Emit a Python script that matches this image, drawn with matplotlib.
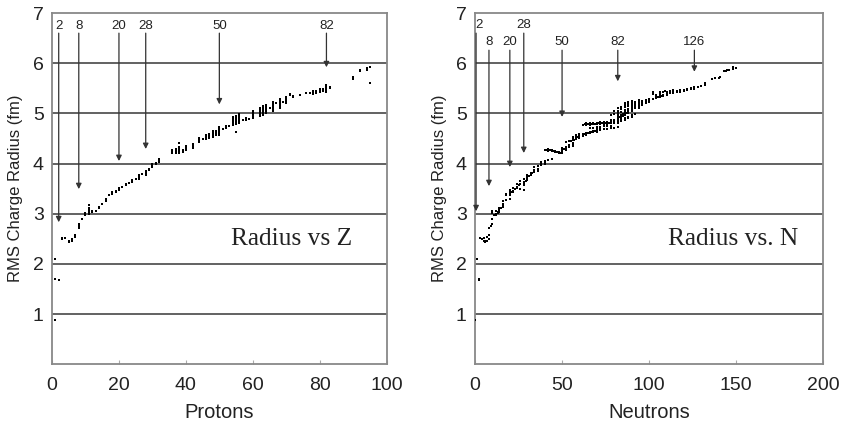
import matplotlib
matplotlib.use('Agg')
import matplotlib.pyplot as plt

# measured nuclei: proton number, neutron number, rms charge radius (fm)
# (one line per element, same layout in all three lists)
protons = [
    1, 1, 1,
    2,
    3, 3,
    4,
    5, 5,
    6, 6, 6,
    7, 7,
    8, 8, 8,
    9,
    10, 10, 10,
    11, 11, 11, 11, 11, 11,
    12, 12, 12,
    13,
    14, 14, 14,
    15,
    16, 16, 16,
    17, 17,
    18, 18, 18,
    19, 19, 19,
    20, 20, 20, 20, 20, 20,
    21,
    22, 22, 22, 22,
    23,
    24, 24, 24, 24,
    25,
    26, 26, 26, 26,
    27,
    28, 28, 28, 28, 28,
    29, 29,
    30, 30, 30, 30,
    31, 31,
    32, 32, 32, 32,
    36, 36, 36, 36, 36, 36,
    37, 37, 37, 37, 37, 37, 37,
    38, 38, 38, 38, 38, 38, 38, 38, 38, 38,
    39, 39,
    40, 40, 40, 40, 40,
    42, 42, 42, 42,
    44, 44, 44, 44, 44, 44, 44,
    45,
    46, 46, 46, 46, 46, 46,
    47, 47, 47, 47, 47,
    48, 48, 48, 48, 48, 48, 48, 48, 48, 48,
    49, 49, 49, 49, 49, 49,
    50, 50, 50, 50, 50, 50, 50, 50, 50, 50, 50, 50, 50, 50, 50,
    51, 51,
    52, 52, 52, 52, 52, 52, 52,
    53,
    54, 54, 54, 54, 54, 54, 54, 54, 54, 54, 54, 54, 54, 54, 54,
    55, 55, 55, 55, 55, 55, 55, 55, 55, 55, 55, 55, 55, 55, 55, 55,
    56, 56, 56, 56, 56, 56, 56, 56, 56, 56, 56, 56, 56, 56, 56,
    57,
    58, 58, 58, 58,
    59,
    60, 60, 60, 60, 60, 60, 60,
    62, 62, 62, 62, 62, 62, 62, 62,
    63, 63, 63, 63, 63, 63, 63, 63, 63,
    64, 64, 64, 64, 64, 64, 64, 64,
    65,
    66, 66, 66, 66, 66, 66, 66, 66, 66, 66,
    67,
    68, 68, 68, 68, 68, 68, 68, 68, 68, 68, 68,
    69,
    70, 70, 70, 70, 70, 70, 70, 70, 70,
    71, 71,
    72, 72, 72, 72, 72,
    74, 74, 74,
    76, 76,
    77,
    78, 78, 78, 78, 78, 78, 78,
    79, 79, 79, 79, 79,
    80, 80, 80, 80, 80, 80, 80, 80, 80, 80,
    81, 81, 81, 81, 81, 81,
    82, 82, 82, 82, 82, 82, 82, 82, 82, 82,
    83, 83,
    90, 90, 90, 90,
    92, 92, 92,
    94, 94, 94, 94,
    95, 95,
]
neutrons = [
    0, 1, 2,
    2,
    3, 4,
    5,
    5, 6,
    6, 7, 8,
    7, 8,
    8, 9, 10,
    10,
    10, 11, 12,
    10, 12, 13, 14, 15, 16,
    12, 13, 14,
    14,
    14, 15, 16,
    16,
    16, 18, 20,
    18, 20,
    18, 20, 22,
    20, 21, 22,
    20, 22, 23, 24, 26, 28,
    24,
    24, 25, 26, 28,
    28,
    26, 28, 29, 30,
    30,
    28, 30, 31, 32,
    32,
    30, 32, 33, 34, 36,
    34, 36,
    34, 36, 38, 40,
    38, 40,
    38, 40, 42, 44,
    40, 42, 44, 46, 48, 50,
    41, 43, 45, 47, 48, 50, 52,
    42, 44, 46, 47, 48, 49, 50, 52, 54, 56,
    50, 52,
    50, 51, 52, 54, 56,
    50, 52, 54, 56,
    52, 54, 55, 56, 57, 58, 60,
    58,
    56, 58, 59, 60, 62, 64,
    56, 58, 60, 62, 64,
    56, 58, 60, 62, 63, 64, 65, 66, 68, 70,
    60, 62, 64, 66, 68, 70,
    58, 60, 62, 64, 66, 67, 68, 69, 70, 72, 74, 76, 78, 80, 82,
    70, 72,
    66, 68, 70, 72, 74, 76, 78,
    74,
    62, 64, 66, 68, 70, 72, 74, 76, 78, 80, 82, 84, 86, 88, 90,
    63, 65, 67, 69, 70, 71, 73, 75, 77, 78, 80, 82, 84, 86, 88, 90,
    64, 66, 68, 70, 72, 74, 76, 78, 80, 82, 84, 86, 88, 90, 92,
    82,
    78, 80, 82, 84,
    82,
    82, 83, 84, 85, 86, 88, 90,
    82, 84, 85, 86, 87, 88, 90, 92,
    78, 80, 82, 84, 86, 88, 90, 92, 94,
    82, 84, 86, 88, 90, 92, 94, 96,
    94,
    80, 82, 84, 86, 88, 90, 92, 94, 96, 98,
    98,
    82, 84, 86, 88, 90, 92, 94, 96, 98, 100, 102,
    100,
    86, 88, 90, 94, 98, 100, 102, 104, 106,
    104, 106,
    104, 105, 106, 107, 108,
    106, 108, 110,
    112, 114,
    114,
    102, 106, 110, 114, 116, 118, 120,
    106, 110, 114, 118, 120,
    102, 106, 110, 114, 116, 118, 120, 122, 124, 126,
    109, 114, 118, 122, 124, 126,
    108, 112, 116, 120, 122, 124, 126, 128, 130, 132,
    124, 126,
    136, 138, 140, 141,
    143, 144, 146,
    145, 146, 148, 150,
    148, 132,
]
radius = [
    0.88, 2.10, 1.70,
    1.68,
    2.52, 2.50,
    2.51,
    2.45, 2.44,
    2.46, 2.45, 2.50,
    2.54, 2.57,
    2.72, 2.75, 2.79,
    2.89,
    3.01, 2.98, 2.97,
    3.05, 3.00, 3.02, 3.08, 3.12, 3.17,
    3.06, 3.03, 3.04,
    3.06,
    3.12, 3.12, 3.13,
    3.19,
    3.25, 3.28, 3.30,
    3.37, 3.38,
    3.39, 3.40, 3.43,
    3.44, 3.44, 3.45,
    3.48, 3.51, 3.49, 3.52, 3.50, 3.48,
    3.54,
    3.59, 3.58, 3.59, 3.57,
    3.61,
    3.66, 3.64, 3.65, 3.68,
    3.70,
    3.70, 3.74, 3.75, 3.77,
    3.79,
    3.78, 3.81, 3.82, 3.84, 3.86,
    3.88, 3.90,
    3.93, 3.95, 3.97, 3.99,
    4.00, 4.01,
    4.04, 4.06, 4.08, 4.09,
    4.27, 4.26, 4.25, 4.24, 4.22, 4.21,
    4.28, 4.27, 4.25, 4.24, 4.23, 4.22, 4.29,
    4.29, 4.27, 4.25, 4.24, 4.23, 4.22, 4.21, 4.30, 4.33, 4.40,
    4.24, 4.28,
    4.27, 4.29, 4.31, 4.33, 4.35,
    4.31, 4.34, 4.36, 4.38,
    4.42, 4.44, 4.45, 4.46, 4.47, 4.48, 4.50,
    4.49,
    4.48, 4.51, 4.52, 4.53, 4.55, 4.57,
    4.50, 4.52, 4.54, 4.56, 4.58,
    4.52, 4.54, 4.56, 4.58, 4.58, 4.59, 4.60, 4.61, 4.63, 4.64,
    4.57, 4.59, 4.60, 4.62, 4.63, 4.65,
    4.56, 4.58, 4.59, 4.61, 4.63, 4.63, 4.64, 4.64, 4.65, 4.66, 4.68, 4.69, 4.70, 4.71, 4.72,
    4.68, 4.69,
    4.70, 4.71, 4.72, 4.73, 4.74, 4.74, 4.75,
    4.75,
    4.76, 4.77, 4.77, 4.78, 4.78, 4.79, 4.79, 4.79, 4.80, 4.80, 4.81, 4.84, 4.87, 4.90, 4.93,
    4.78, 4.78, 4.79, 4.79, 4.63, 4.80, 4.80, 4.80, 4.81, 4.81, 4.82, 4.83, 4.86, 4.89, 4.92, 4.95,
    4.80, 4.80, 4.81, 4.81, 4.82, 4.82, 4.83, 4.83, 4.83, 4.84, 4.87, 4.90, 4.93, 4.96, 4.98,
    4.86,
    4.87, 4.87, 4.88, 4.91,
    4.89,
    4.91, 4.92, 4.94, 4.95, 4.97, 5.00, 5.04,
    4.95, 4.97, 4.99, 5.00, 5.01, 5.04, 5.08, 5.10,
    4.97, 4.98, 4.99, 5.02, 5.04, 5.07, 5.11, 5.13, 5.15,
    5.00, 5.03, 5.07, 5.09, 5.12, 5.14, 5.16, 5.17,
    5.10,
    5.05, 5.05, 5.08, 5.12, 5.14, 5.16, 5.18, 5.19, 5.21, 5.22,
    5.20,
    5.10, 5.13, 5.17, 5.19, 5.21, 5.22, 5.23, 5.24, 5.25, 5.26, 5.28,
    5.23,
    5.20, 5.23, 5.25, 5.26, 5.27, 5.28, 5.29, 5.30, 5.32,
    5.36, 5.38,
    5.33, 5.33, 5.34, 5.34, 5.35,
    5.36, 5.37, 5.37,
    5.40, 5.41,
    5.40,
    5.38, 5.39, 5.40, 5.41, 5.42, 5.43, 5.44,
    5.40, 5.41, 5.43, 5.44, 5.45,
    5.42, 5.43, 5.43, 5.44, 5.44, 5.45, 5.46, 5.47, 5.48, 5.49,
    5.45, 5.46, 5.46, 5.47, 5.48, 5.49,
    5.43, 5.44, 5.45, 5.47, 5.48, 5.49, 5.50, 5.52, 5.54, 5.56,
    5.50, 5.52,
    5.68, 5.70, 5.71, 5.72,
    5.84, 5.85, 5.86,
    5.86, 5.87, 5.89, 5.90,
    5.92, 5.61,
]

# magic numbers with the radius where each arrow points
magic_z = [2, 8, 20, 28, 50, 82]
tip_z = [2.83, 3.49, 4.05, 4.29, 5.18, 5.92]
magic_n = [2, 8, 20, 28, 50, 82, 126]
tip_n = [3.05, 3.55, 3.93, 4.21, 4.93, 5.64, 5.83]
arrow_x_n = [0.6, 8, 20, 28, 50, 82, 126]
label_x_n = [2, 8, 20, 28, 50, 82, 126]
label_y_n = [6.76, 6.42, 6.42, 6.76, 6.42, 6.42, 6.42]

plt.rcParams['font.family'] = ['Liberation Sans', 'DejaVu Sans']

fig = plt.figure(figsize=(8.43, 4.22), dpi=100)
ax1 = fig.add_axes([0.0617, 0.137, 0.397, 0.832])
ax2 = fig.add_axes([0.5635, 0.137, 0.413, 0.832])

def style(ax, xmax, xstep, xlabel):
    ax.set_xlim(0, xmax)
    ax.set_ylim(0, 7)
    ax.set_xticks(range(0, xmax + 1, xstep))
    ax.set_yticks([1, 2, 3, 4, 5, 6, 7])
    for y in [1, 2, 3, 4, 5, 6]:
        ax.axhline(y, color='#555555', lw=1.3, zorder=1)
    for s in ax.spines.values():
        s.set_color('#888888')
        s.set_linewidth(1.3)
    ax.tick_params(axis='x', direction='in', length=3, color='#aaaaaa', labelsize=14, pad=9, colors='#222222')
    ax.tick_params(axis='y', length=0, labelsize=14, pad=6, colors='#222222')
    ax.set_xlabel(xlabel, fontsize=14.5, labelpad=7, color='#222222')
    ax.set_ylabel('RMS Charge Radius (fm)', fontsize=12, color='#222222')

style(ax1, 100, 20, 'Protons')
style(ax2, 200, 50, 'Neutrons')
ax1.yaxis.set_label_coords(-0.087, 0.5)
ax2.yaxis.set_label_coords(-0.08, 0.5)

ax1.plot(protons, radius, 's', ms=1.9, mew=0, color='black', zorder=3)
ax2.plot(neutrons, radius, 's', ms=1.9, mew=0, color='black', zorder=3)

arrow_style = dict(arrowstyle='-|>', color='#333333', lw=0.9, mutation_scale=8, shrinkA=0, shrinkB=0)
for m, t in zip(magic_z, tip_z):
    ax1.annotate('', xy=(m, t), xytext=(m, 6.6), arrowprops=arrow_style, zorder=4)
    ax1.text(m, 6.74, str(m), ha='center', va='center', fontsize=9.5, color='#222222')

for m, ax_x, lx, ly, t in zip(magic_n, arrow_x_n, label_x_n, label_y_n, tip_n):
    ax2.annotate('', xy=(ax_x, t), xytext=(ax_x, ly - 0.16), arrowprops=arrow_style, zorder=4)
    ax2.text(lx, ly, str(m), ha='center', va='center', fontsize=9.5, color='#222222')

ax1.text(71.6, 2.49, 'Radius vs Z', family='Liberation Serif', fontsize=18.3, ha='center', va='center', color='#222222')
ax2.text(148, 2.49, 'Radius vs. N', family='Liberation Serif', fontsize=18.3, ha='center', va='center', color='#222222')

fig.savefig('out.png', dpi=100)
